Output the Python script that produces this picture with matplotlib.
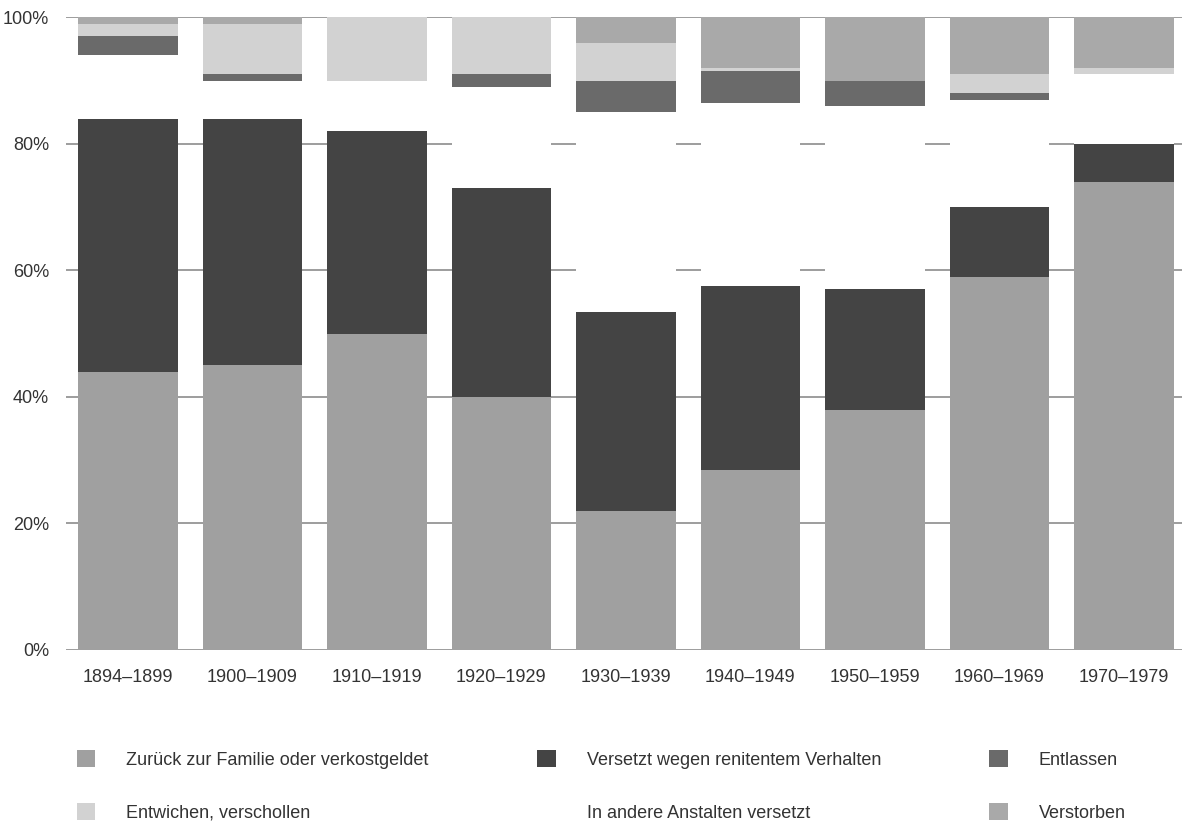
import numpy as np
import matplotlib
import matplotlib.pyplot as plt
from matplotlib.patches import Patch

matplotlib.use('Agg')

plt.rcParams['font.family'] = ['Liberation Sans', 'DejaVu Sans']

perioden = ["1894–1899", "1900–1909", "1910–1919", "1920–1929", "1930–1939",
            "1940–1949", "1950–1959", "1960–1969", "1970–1979"]

# Anteile in Prozent, von unten nach oben gestapelt
zurueck = [44, 45, 50, 40, 22, 28.5, 38, 59, 74]
renitent = [40, 39, 32, 33, 31.5, 29, 19, 11, 6]
andere = [10, 6, 8, 16, 31.5, 29, 29, 17, 11]
entlassen = [3, 1, 0, 2, 5, 5, 4, 1, 0]
entwichen = [2, 8, 10, 9, 6, 0.5, 0, 3, 1]
verstorben = [1, 1, 0, 0, 4, 8, 10, 9, 8]

serien = [
    (zurueck, "#a0a0a0", "Zurück zur Familie oder verkostgeldet"),
    (renitent, "#444444", "Versetzt wegen renitentem Verhalten"),
    (andere, "#ffffff", "In andere Anstalten versetzt"),
    (entlassen, "#6a6a6a", "Entlassen"),
    (entwichen, "#d2d2d2", "Entwichen, verschollen"),
    (verstorben, "#a9a9a9", "Verstorben"),
]

fig = plt.figure(figsize=(11.82, 8.21), dpi=100)
ax = fig.add_axes([0.0555, 0.2083, 0.948, 0.7706])

x = np.arange(len(perioden))
bottom = np.zeros(len(perioden))
for werte, farbe, name in serien:
    ax.bar(x, werte, bottom=bottom, width=0.8, color=farbe, zorder=2)
    bottom += np.array(werte)

ax.set_xlim(-0.5, 8.5)
ax.set_ylim(0, 100)
ax.set_yticks([0, 20, 40, 60, 80, 100])
ax.set_yticklabels(["0%", "20%", "40%", "60%", "80%", "100%"])
ax.set_xticks(x)
ax.set_xticklabels(perioden)
ax.yaxis.grid(True, color="#8c8c8c", linewidth=1.2, zorder=0)
ax.set_axisbelow(True)
for s in ax.spines.values():
    s.set_visible(False)
ax.tick_params(length=0, labelsize=13, colors="#333333")
ax.tick_params(axis="x", pad=14)
ax.tick_params(axis="y", pad=12)

handles = [Patch(facecolor=f, edgecolor="none") for _, f, _ in serien]
labels = [n for _, _, n in serien]
# Reihenfolge fuer spaltenweises Fuellen
order = [0, 4, 1, 2, 3, 5]
fig.legend([handles[i] for i in order], [labels[i] for i in order],
           ncol=3, loc="upper left", bbox_to_anchor=(0.051, 0.106),
           frameon=False, fontsize=13, handlelength=1.05, handleheight=1.05,
           handletextpad=1.7, columnspacing=6.0, labelspacing=1.9,
           labelcolor="#333333")

fig.savefig("out.png", dpi=100)
